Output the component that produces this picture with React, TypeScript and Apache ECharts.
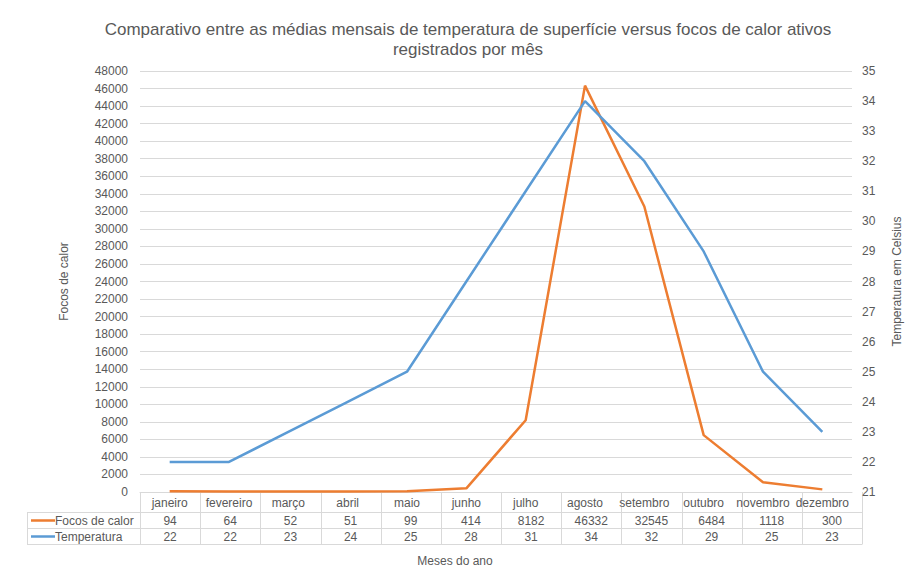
import React, { useEffect, useRef } from "react";
import * as echarts from "echarts";

const months = ["janeiro","fevereiro","março","abril","maio","junho","julho","agosto","setembro","outubro","novembro","dezembro"];
const focos = [94, 64, 52, 51, 99, 414, 8182, 46332, 32545, 6484, 1118, 300];
const temperatura = [22, 22, 23, 24, 25, 28, 31, 34, 32, 29, 25, 23];
const seriesNames = ["Focos de calor", "Temperatura"];
const colors = ["#ED7D31", "#5B9BD5"];

const W = 911, H = 571;
const GL = 140, GR = 862, GT = 71, GB = 492;
const TXT = "#595959";
const LINE = "#d9d9d9";
const FONT = "Liberation Sans, Arial, sans-serif";

export default function App() {
  const ref = useRef<HTMLDivElement>(null);
  useEffect(() => {
    const chart = echarts.init(ref.current!, null, { renderer: "svg" });
    const colW = (GR - GL) / months.length;
    const rows = [
      { y1: 512, y2: 528, vals: focos, name: seriesNames[0], color: colors[0] },
      { y1: 528, y2: 544, vals: temperatura, name: seriesNames[1], color: colors[1] },
    ];
    const g: any[] = [];
    const lineEl = (x1: number, y1: number, x2: number, y2: number) => ({
      type: "line", shape: { x1, y1, x2, y2 }, style: { stroke: LINE, lineWidth: 1 }, silent: true,
    });
    g.push(lineEl(27, 512.5, GR, 512.5));
    g.push(lineEl(27, 528.5, GR, 528.5));
    g.push(lineEl(27, 544.5, GR, 544.5));
    g.push(lineEl(27.5, 512, 27.5, 544.5));
    for (let i = 0; i <= months.length; i++) {
      const x = Math.round(GL + i * colW) + 0.5;
      g.push(lineEl(x, GB, x, 544.5));
    }
    rows.forEach((r) => {
      const cy = (r.y1 + r.y2) / 2 + 0.5;
      g.push({ type: "line", shape: { x1: 31, y1: cy, x2: 55, y2: cy }, style: { stroke: r.color, lineWidth: 2.5 }, silent: true });
      g.push({ type: "text", x: 55, y: cy, style: { text: r.name, fill: TXT, font: `12px ${FONT}`, textAlign: "left", textVerticalAlign: "middle" } });
      r.vals.forEach((v, i) => {
        g.push({ type: "text", x: GL + (i + 0.5) * colW, y: cy, style: { text: String(v), fill: TXT, font: `12px ${FONT}`, textAlign: "center", textVerticalAlign: "middle" } });
      });
    });
    g.push({ type: "text", x: 455, y: 561, style: { text: "Meses do ano", fill: TXT, font: `12px ${FONT}`, textAlign: "center", textVerticalAlign: "middle" } });

    chart.setOption({
      animation: false,
      backgroundColor: "#fff",
      textStyle: { fontFamily: FONT },
      title: {
        text: "Comparativo entre as médias mensais de temperatura de superfície versus focos de calor ativos\nregistrados por mês",
        left: 463, top: 14, textAlign: "center",
        textStyle: { color: TXT, fontSize: 17, fontWeight: "normal", lineHeight: 20, fontFamily: FONT, align: "center" },
      },
      grid: { left: GL, right: W - GR, top: GT, bottom: H - GB, containLabel: false },
      xAxis: {
        type: "category", data: months, boundaryGap: true,
        axisLine: { lineStyle: { color: LINE } },
        axisTick: { show: false },
        axisLabel: { color: TXT, fontSize: 12, margin: 5, interval: 0 },
      },
      yAxis: [
        {
          type: "value", min: 0, max: 48000, interval: 2000,
          name: "Focos de calor", nameLocation: "middle", nameGap: 70, nameRotate: 90,
          nameTextStyle: { color: TXT, fontSize: 12 },
          axisLabel: { color: TXT, fontSize: 12, margin: 12, formatter: (v: number) => String(v) },
          axisLine: { show: false }, axisTick: { show: false },
          splitLine: { lineStyle: { color: LINE } },
        },
        {
          type: "value", min: 21, max: 35, interval: 1, position: "right",
          name: "Temperatura em Celsius", nameLocation: "middle", nameGap: 39, nameRotate: 90,
          nameTextStyle: { color: TXT, fontSize: 12 },
          axisLabel: { color: TXT, fontSize: 12, margin: 10 },
          axisLine: { show: false }, axisTick: { show: false },
          splitLine: { show: false },
        },
      ],
      series: [
        { name: seriesNames[0], type: "line", data: focos, yAxisIndex: 0, showSymbol: false, symbol: "none", lineStyle: { color: colors[0], width: 2.5 }, itemStyle: { color: colors[0] } },
        { name: seriesNames[1], type: "line", data: temperatura, yAxisIndex: 1, showSymbol: false, symbol: "none", lineStyle: { color: colors[1], width: 2.5 }, itemStyle: { color: colors[1] } },
      ],
      graphic: g,
    });
    return () => chart.dispose();
  }, []);
  return <div ref={ref} style={{ position: "fixed", left: 0, top: 0, width: W, height: H }} />;
}
